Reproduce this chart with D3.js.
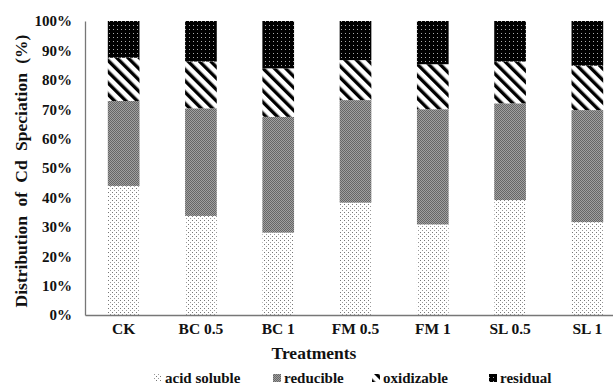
<!DOCTYPE html>
<html><head><meta charset="utf-8">
<script src="https://cdn.jsdelivr.net/npm/d3@7/dist/d3.min.js"></script>
<style>
body{margin:0;background:#fff;}
svg{display:block;font-family:"Liberation Serif","Times New Roman",serif;font-weight:bold;}
</style></head><body>
<svg id="c" width="613" height="386"></svg>
<script>
const categories = ["CK","BC 0.5","BC 1","FM 0.5","FM 1","SL 0.5","SL 1"];
const seriesNames = ["acid soluble","reducible","oxidizable","residual"];
const acidSoluble = [43.9, 33.7, 28.0, 38.2, 30.8, 39.1, 31.6];
const reducible   = [28.9, 36.6, 39.4, 34.9, 39.2, 32.9, 38.1];
const oxidizable  = [14.7, 15.9, 16.5, 13.6, 15.3, 14.2, 15.1];
const residual    = [12.5, 13.8, 16.1, 13.3, 14.7, 13.8, 15.2];
const yTicks = [0,10,20,30,40,50,60,70,80,90,100];

const svg = d3.select("#c");
const defs = svg.append("defs");
const p1 = defs.append("pattern").attr("id","pAcid").attr("patternUnits","userSpaceOnUse").attr("width",4).attr("height",4);
p1.append("rect").attr("width",4).attr("height",4).attr("fill","#fff");
p1.append("rect").attr("x",0).attr("y",0).attr("width",1).attr("height",1).attr("fill","#777");
p1.append("rect").attr("x",2).attr("y",2).attr("width",1).attr("height",1).attr("fill","#999");
const p2 = defs.append("pattern").attr("id","pRed").attr("patternUnits","userSpaceOnUse").attr("width",2).attr("height",2);
p2.append("rect").attr("width",2).attr("height",2).attr("fill","#a0a0a0");
p2.append("rect").attr("x",0).attr("y",0).attr("width",1).attr("height",1).attr("fill","#666");
p2.append("rect").attr("x",1).attr("y",1).attr("width",1).attr("height",1).attr("fill","#666");
const p3 = defs.append("pattern").attr("id","pOx").attr("patternUnits","userSpaceOnUse").attr("width",8).attr("height",8)
  .attr("patternTransform","rotate(-45)");
p3.append("rect").attr("width",8).attr("height",8).attr("fill","#fff");
p3.append("rect").attr("x",0).attr("y",0).attr("width",3.4).attr("height",8).attr("fill","#000");
const p4 = defs.append("pattern").attr("id","pRes").attr("patternUnits","userSpaceOnUse").attr("width",4).attr("height",4);
p4.append("rect").attr("width",4).attr("height",4).attr("fill","#000");
p4.append("rect").attr("x",1).attr("y",1).attr("width",1).attr("height",1).attr("fill","#aaa");
const fills = ["url(#pAcid)","url(#pRed)","url(#pOx)","url(#pRes)"];

const x = d3.scaleBand().domain(categories).range([85,626]).paddingInner(0.59).paddingOuter(0.295);
const y = d3.scaleLinear().domain([0,100]).range([315,21]);

const rows = categories.map((c,i)=>({cat:c,"acid soluble":acidSoluble[i],reducible:reducible[i],oxidizable:oxidizable[i],residual:residual[i]}));
const stack = d3.stack().keys(seriesNames).offset(d3.stackOffsetExpand)(rows);

svg.append("g").selectAll("g").data(stack).join("g")
  .attr("fill",(d,i)=>fills[i])
  .selectAll("rect").data(d=>d).join("rect")
  .attr("x",d=>x(d.data.cat))
  .attr("width",x.bandwidth())
  .attr("y",d=>y(d[1]*100))
  .attr("height",d=>y(d[0]*100)-y(d[1]*100));

const ya = svg.append("g").attr("transform","translate(85,0)")
  .call(d3.axisLeft(y).tickValues(yTicks).tickSize(0).tickPadding(13).tickFormat(d=>d+"%"));
ya.select(".domain").attr("stroke","#777").attr("stroke-width",1.3);
ya.selectAll("text").attr("font-family","Liberation Serif").attr("font-weight","bold").attr("font-size",15).attr("fill","#111");

const xa = svg.append("g").attr("transform","translate(0,315)")
  .call(d3.axisBottom(x).tickSize(0).tickPadding(8));
xa.select(".domain").attr("stroke","#777").attr("stroke-width",1.3);
xa.selectAll("text").attr("font-family","Liberation Serif").attr("font-weight","bold").attr("font-size",15.5).attr("fill","#111");

svg.append("text").attr("x",314).attr("y",359).attr("text-anchor","middle").attr("font-size",17.5).attr("fill","#111").text("Treatments");
svg.append("text").attr("transform","translate(27,171) rotate(-90)").attr("text-anchor","middle").attr("font-size",17.5).attr("fill","#111")
  .attr("word-spacing","5").text("Distribution of Cd Speciation (%)");

const legX = [154,273,372,489];
const lg = svg.append("g");
seriesNames.forEach((n,i)=>{
  lg.append("rect").attr("x",legX[i]).attr("y",374).attr("width",8).attr("height",8).attr("fill",fills[i]);
  lg.append("text").attr("x",legX[i]+11).attr("y",383).attr("font-size",15).attr("fill","#111").text(n);
});
</script></body></html>
